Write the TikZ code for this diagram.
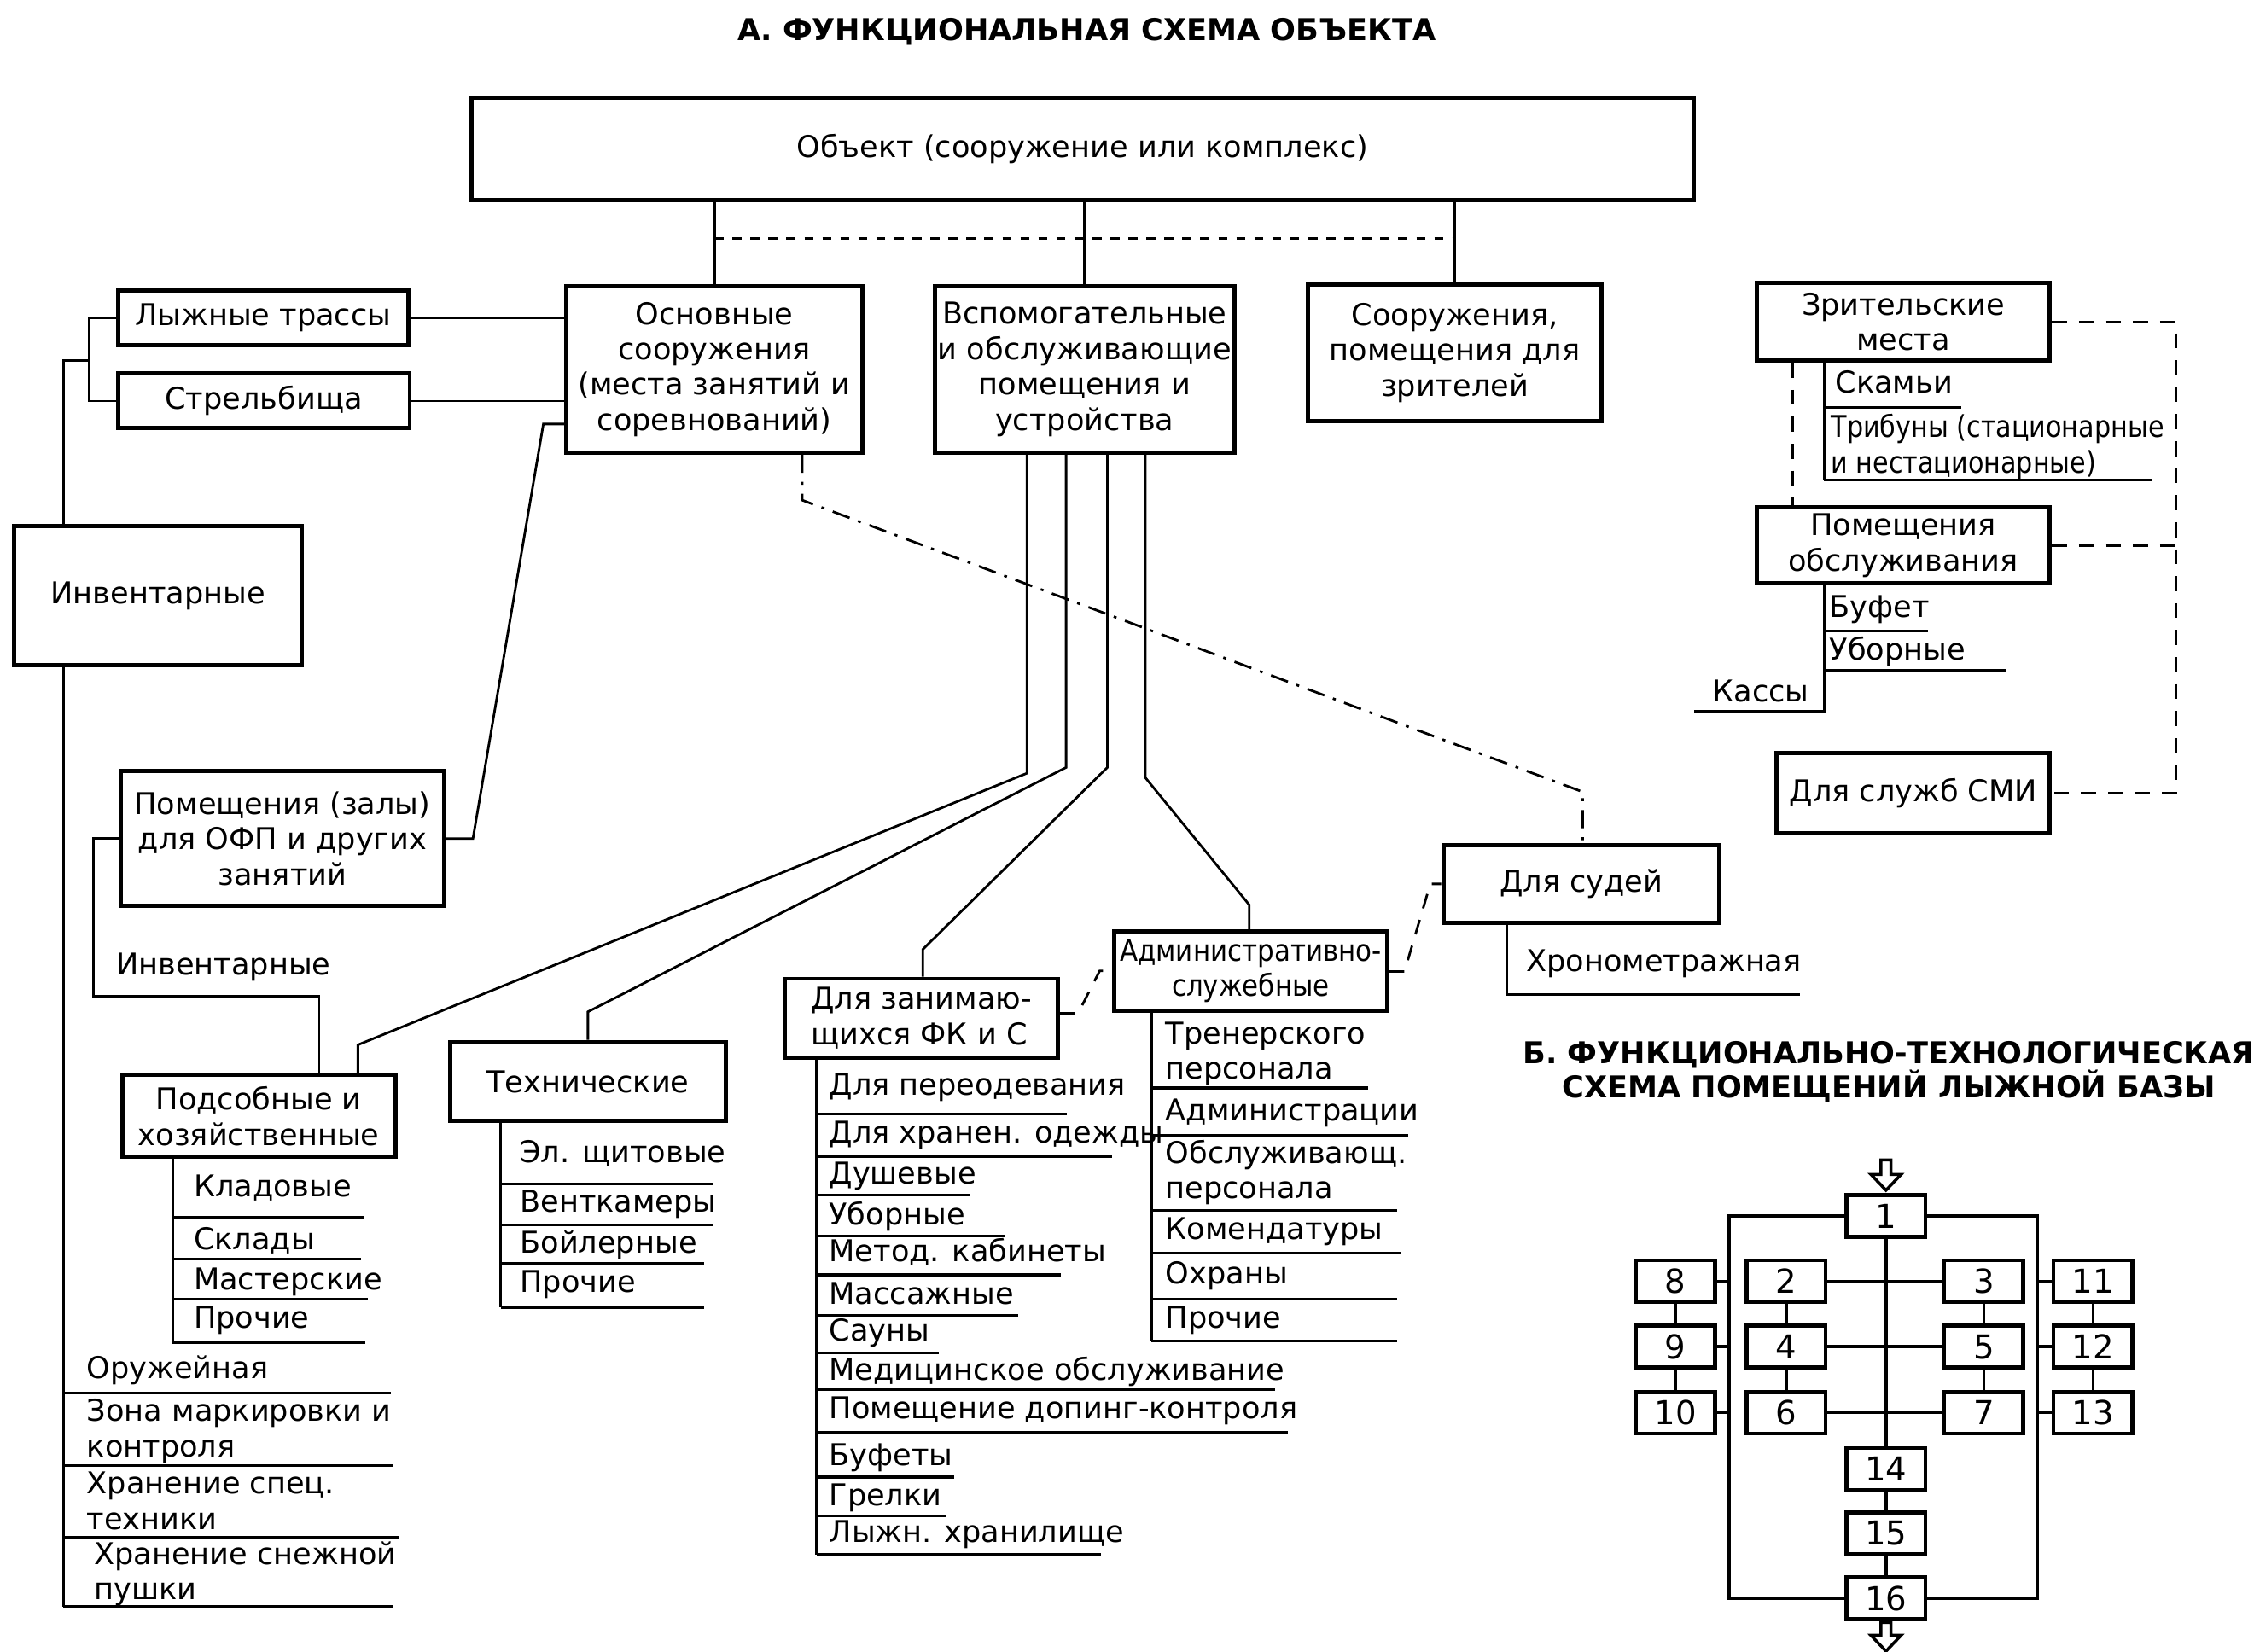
\documentclass[tikz,border=0pt]{standalone}
\usepackage{fontspec}
\setmainfont{DejaVu Sans}
\def\pxu{0.16843mm}
\newcommand\txtfnt{\fontsize{10}{11.8}\selectfont}
\newcommand\ttlfnt{\fontsize{10}{11.5}\selectfont\bfseries}
\newcommand\numfnt{\fontsize{11}{12}\selectfont}
\tikzset{
  box/.style={draw, line width=1.4pt, align=center, inner sep=1pt, font=\txtfnt},
  sz/.style 2 args={minimum width=#1*\pxu, minimum height=#2*\pxu},
  itm/.style={anchor=base west, inner sep=0pt, align=left, font=\txtfnt},
  uline/.style={line width=0.9pt},
  dsh/.style={line width=0.8pt, dash pattern=on 5pt off 4pt},
  dshdot/.style={line width=0.8pt, dash pattern=on 6pt off 3pt on 1pt off 3pt},
  num/.style={draw, line width=1.3pt, inner sep=0pt, font=\numfnt, sz={55}{29}},
  flow/.style={line width=1pt}
}
\begin{document}
\begin{tikzpicture}[x=\pxu, y=-\pxu, line width=0.8pt]
  \fill[white] (0,0) rectangle (1568,1149);
  \useasboundingbox (0,0) rectangle (1568,1149);
  \node[font=\ttlfnt] (ttla) at (756,22) {А. ФУНКЦИОНАЛЬНАЯ СХЕМА ОБЪЕКТА};
  \node[font=\ttlfnt, align=center] (ttlb) at (1314,746) {Б. ФУНКЦИОНАЛЬНО-ТЕХНОЛОГИЧЕСКАЯ\\СХЕМА ПОМЕЩЕНИЙ ЛЫЖНОЙ БАЗЫ};
  \node[box, sz={850}{71}] (obj) at (753,103.5) {Объект (сооружение или комплекс)};
  \node[box, sz={206}{116}] (osn) at (497,257) {Основные\\сооружения\\(места занятий и\\соревнований)};
  \node[box, sz={203}{116}] (vsp) at (754.5,257) {Вспомогательные\\и обслуживающие\\помещения и\\устройства};
  \node[box, sz={204}{95}] (zrit) at (1012,245.5) {Сооружения,\\помещения для\\зрителей};
  \node[box, sz={202}{38}] (trass) at (183,221) {Лыжные трассы};
  \node[box, sz={203}{38}] (strel) at (183.5,279) {Стрельбища};
  \node[box, sz={200}{97}] (inv) at (110,414.5) {Инвентарные};
  \node[box, sz={225}{94}] (ofp) at (196.5,583.5) {Помещения (залы)\\для ОФП и других\\занятий};
  \node[box, sz={190}{57}] (pods) at (180,776.5) {Подсобные и\\хозяйственные};
  \node[box, sz={192}{55}] (tech) at (409,752.5) {Технические};
  \node[box, sz={190}{55}, align=left] (fk) at (641,708.5) {Для занимаю-\\щихся ФК и С};
  \node[box, sz={190}{55}, inner sep=0pt, font=\txtfnt\addfontfeature{FakeStretch=0.88}] (adm) at (870,675.5) {Административно-\\служебные};
  \node[box, sz={192}{54}] (jud) at (1100,615) {Для судей};
  \node[box, sz={204}{54}] (zmest) at (1324,224) {Зрительские\\места};
  \node[box, sz={204}{53}] (pobs) at (1324,379.5) {Помещения\\обслуживания};
  \node[box, sz={190}{56}] (smi) at (1331,552) {Для служб СМИ};
  \node[itm] (invlbl) at (80,678.4) {Инвентарные};
  \node[itm] (chrono) at (1061,676) {Хронометражная};
  \node[itm] (kassy) at (1190.5,488.6) {Кассы};

  \coordinate (dl) at (494,166);
  \coordinate (brk) at (62,251);
  \coordinate (invx) at (44,251);
  \coordinate (invend) at (44,1117.8);
  \coordinate (o1) at (329,583.5);
  \coordinate (o2) at (378,295);
  \coordinate (ib) at (65,693);
  \coordinate (ib2) at (222,693);
  \coordinate (v1a) at (714.4,538);
  \coordinate (v1b) at (249,727);
  \coordinate (v2a) at (741.6,534);
  \coordinate (v2b) at (409,704);
  \coordinate (v3a) at (770.3,534);
  \coordinate (v3b) at (642,660.5);
  \coordinate (v4a) at (796.7,541);
  \coordinate (v4b) at (869,629.5);
  \coordinate (pdl) at (120,934);
  \coordinate (tcl) at (348.3,909.6);
  \coordinate (fkl) at (568,1081.5);
  \coordinate (adl) at (801,933);
  \coordinate (jl) at (1048,692);
  \coordinate (jr) at (1252,692);
  \coordinate (d1) at (750,705);
  \coordinate (d2) at (765,675.5);
  \coordinate (d3) at (977,676);
  \coordinate (d4) at (995,615);
  \coordinate (e1) at (558,348);
  \coordinate (e2) at (1101,551);
  \coordinate (zx) at (1247,300);
  \coordinate (zl) at (1269,334);
  \coordinate (pl) at (1269,495);
  \coordinate (kl) at (1178.6,495);
  \coordinate (rx) at (1513.5,300);
  \coordinate (fl) at (1203,900);
  \coordinate (fr) at (1417.3,900);

  \begin{scope}[-]
    \draw (obj.south -| osn.north) -- (osn.north);
    \draw (obj.south -| vsp.north) -- (vsp.north);
    \draw (obj.south -| zrit.north) -- (zrit.north);
    \draw[dashed, line width=0.8pt] (osn.north |- dl) -- (zrit.north |- dl);
    \draw (trass.east) -- (trass.east -| osn.west);
    \draw (strel.east) -- (strel.east -| osn.west);
    \draw (trass.west) -- (trass.west -| brk) -- (strel.west -| brk) -- (strel.west);
    \draw (brk) -- (invx) -- (invx |- inv.north);
    \draw (invx |- inv.south) -- (invend);
    \draw (ofp.east) -- (o1) -- (o2) -- (o2 -| osn.west);
    \draw (ofp.west) -| (ib) -- (ib2) -- (ib2 |- pods.north);
    \draw (vsp.south -| v1a) -- (v1a) -- (v1b) -- (v1b |- pods.north);
    \draw (vsp.south -| v2a) -- (v2a) -- (v2b) -- (v2b |- tech.north);
    \draw (vsp.south -| v3a) -- (v3a) -- (v3b) -- (v3b |- fk.north);
    \draw (vsp.south -| v4a) -- (v4a) -- (v4b) -- (v4b |- adm.north);
    \draw (pods.south -| pdl) -- (pdl);
    \draw (tech.south -| tcl) -- (tcl);
    \draw (fk.south -| fkl) -- (fkl);
    \draw (adm.south -| adl) -- (adl);
    \draw (jud.south -| jl) -- (jl) -- (jr);
    \draw[dsh] (fk.east |- d1) -- (d1) -- (d2) -- (adm.west |- d2);
    \draw[dsh] (adm.east |- d3) -- (d3) -- (d4) -- (jud.west |- d4);
    \draw[dshdot] (osn.south -| e1) -- (e1) -- (e2) -- (e2 |- jud.north);
    \draw[dsh] (zmest.south -| zx) -- (pobs.north -| zx);
    \draw (zmest.south -| zl) -- (zl);
    \draw (pobs.south -| pl) -- (pl) -- (kl);
    \draw[dsh] (zmest.east) -- (zmest.east -| rx) -- (smi.east -| rx) -- (smi.east);
    \draw[dsh] (pobs.east) -- (pobs.east -| rx);
  \end{scope}

  \foreach \yb/\yu/\xe/\xt/\lbl [count=\i] in {959/969/272/59.6/Оружейная,
      1013.5/1019.8/273/59.6/{Зона маркировки и\\контроля},
      1064/1069.8/277/59.6/{Хранение спец.\\техники},
      1113/1117.8/273/64.7/{Хранение снежной\\пушки}} {
    \node[itm] (inv\i) at (\xt,\yb) {\lbl};
    \draw[uline] (44,\yu) -- (\xe,\yu);
  }
  \foreach \yb/\yu/\xe/\lbl [count=\i] in {832.6/847/253/Кладовые,
      869.6/876/251/Склады, 897.5/904/256/Мастерские, 924.4/934/254/Прочие} {
    \node[itm] (pod\i) at (134,\yb) {\lbl};
    \draw[uline] (120,\yu) -- (\xe,\yu);
  }
  \foreach \yb/\yu/\xe/\lbl [count=\i] in {808.7/823.8/496/Эл. щитовые,
      843.4/852.3/496/Венткамеры, 871.9/879/490/Бойлерные, 899/909.6/490/Прочие} {
    \node[itm] (tec\i) at (361,\yb) {\lbl};
    \draw[uline] (348.3,\yu) -- (\xe,\yu);
  }
  \foreach \yb/\yu/\xe/\lbl [count=\i] in {762.2/775/742/Для переодевания,
      795.3/805/773.6/Для хранен. одежды, 823.8/831.7/675/Душевые,
      852.3/860/699.5/Уборные, 878/887/738/Метод. кабинеты,
      907.6/915/708/Массажные, 932.8/941.4/653/Сауны,
      960.4/967/887/Медицинское обслуживание,
      987.2/996.7/896/Помещение допинг-контроля,
      1019.8/1027.7/664/Буфеты, 1047.6/1054.5/658.5/Грелки,
      1072.9/1081.5/766/Лыжн. хранилище} {
    \node[itm] (fk\i) at (576,\yb) {\lbl};
    \draw[uline] (568,\yu) -- (\xe,\yu);
  }
  \foreach \yb/\yu/\xe/\lbl [count=\i] in {751/757/952/{Тренерского\\персонала},
      780/789.7/979.6/Администрации, 834/842/972/{Обслуживающ.\\персонала},
      862.4/872/975/Комендатуры, 893.4/904/972/Охраны, 924/933/972/Прочие} {
    \node[itm] (adm\i) at (810,\yb) {\lbl};
    \draw[uline] (801,\yu) -- (\xe,\yu);
  }
  \node[itm] (zm1) at (1276,273.5) {Скамьи};
  \draw[uline] (1269,283.6) -- (1364.6,283.6);
  \node[itm, font=\txtfnt\addfontfeature{FakeStretch=0.86}] (zm2) at (1273,329.2) {Трибуны (стационарные\\и нестационарные)};
  \draw[uline] (1269,334) -- (1496.6,334);
  \foreach \yb/\yu/\xe/\lbl [count=\i] in {429.3/439/1341/Буфет, 459/466.5/1396/Уборные} {
    \node[itm] (po\i) at (1272,\yb) {\lbl};
    \draw[uline] (1269,\yu) -- (\xe,\yu);
  }

  \foreach \n/\x/\y in {1/1312/846, 2/1242.5/891.5, 3/1380/891.5, 4/1242.5/937,
      5/1380/937, 6/1242.5/983, 7/1380/983, 8/1165.5/891.5, 9/1165.5/937,
      10/1165.5/983, 11/1456/891.5, 12/1456/937, 13/1456/983,
      14/1312/1022, 15/1312/1067, 16/1312/1112}
    \node[num] (b\n) at (\x,\y) {\n};
  \begin{scope}[flow]
    \draw (b1.west) -- (b1.west -| fl) -- (b16.west -| fl) -- (b16.west);
    \draw (b1.east) -- (b1.east -| fr) -- (b16.east -| fr) -- (b16.east);
    \draw (b1.south) -- (b14.north);
    \draw (b14.south) -- (b15.north);
    \draw (b15.south) -- (b16.north);
    \foreach \p/\q in {2/3,4/5,6/7}
      \draw (b\p.east) -- (b\q.west);
    \foreach \p/\q in {2/4,4/6,3/5,5/7,8/9,9/10,11/12,12/13}
      \draw (b\p.south) -- (b\q.north);
    \foreach \p in {8,9,10}
      \draw (b\p.east) -- (b\p.east -| fl);
    \foreach \p in {11,12,13}
      \draw (b\p.west) -- (b\p.west -| fr);
    \draw (b1.north) ++(0,-2) -- ++(-10.5,-11) -- ++(7,0) -- ++(0,-10) -- ++(7,0) -- ++(0,10) -- ++(7,0) -- cycle;
    \draw (b16.south) ++(0,21) -- ++(-10.5,-11) -- ++(7,0) -- ++(0,-9) -- ++(7,0) -- ++(0,9) -- ++(7,0) -- cycle;
  \end{scope}
\end{tikzpicture}
\end{document}
